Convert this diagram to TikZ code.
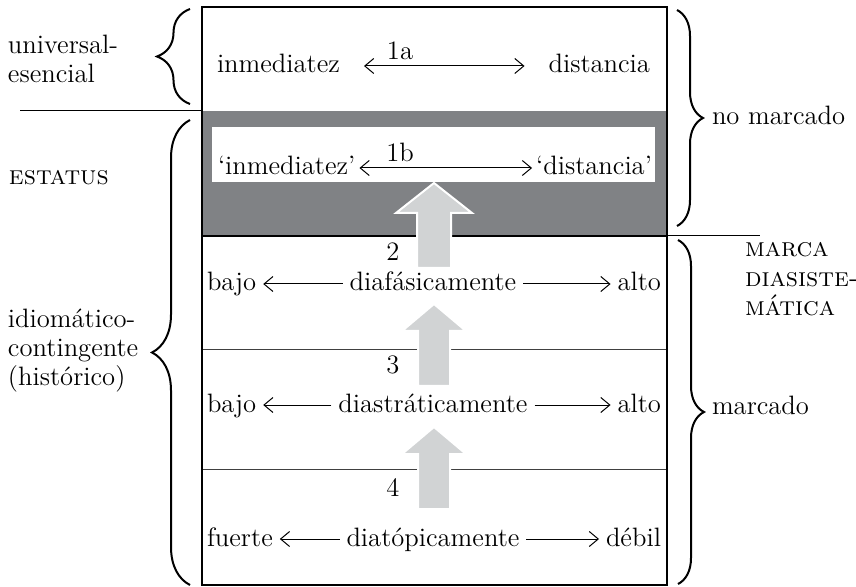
\documentclass[tikz,border=0pt]{standalone}
\usepackage{fontspec}
\usetikzlibrary{decorations.pathreplacing, arrows.meta}

\newfontfamily\capsfont{lmromancaps10-regular.otf}

\definecolor{bandgray}{HTML}{808285}
\definecolor{arrowgray}{HTML}{D1D3D4}

\begin{document}
\begin{tikzpicture}[x=0.5pt, y=-0.5pt,
>={Straight Barb[length=4.5pt, width=7.5pt]},
TxtStyle/.style={inner sep=0pt, outer sep=0pt,
                font=\fontsize{13.3}{14.5}\selectfont},
WordStyle/.style={TxtStyle, text height=9.5pt, text depth=2.5pt},
SideStyle/.style={TxtStyle, align=left, anchor=base west},
CapsStyle/.style={SideStyle, font=\fontsize{13.3}{14.75}\selectfont\capsfont},
NumStyle/.style={TxtStyle, anchor=base},
LinkStyle/.style={->, line width=0.5pt, shorten <=#1, shorten >=#1},
LinkStyle/.default=3.5pt,
BraceStyle/.style={decorate, decoration={brace, amplitude=#1}, line width=1pt},
BigArrowStyle/.style={fill=arrowgray, draw=white, line width=1pt},
RowLineStyle/.style={line width=0.4pt, draw=black!75},]
\useasboundingbox (0,0) rectangle (856,587);

% bands of the box
\fill[bandgray] (202,111) rectangle (667,236);
\fill[white] (212,127) rectangle (655,182);
\draw[line width=0.6pt] (202,236) -- (667,236);
\draw[RowLineStyle] (202,349) -- (667,349);
\draw[RowLineStyle] (202,469) -- (667,469);
\draw[line width=0.6pt] (202,7) rectangle (667,585);
\draw[line width=1.2pt] (202,7) -- (667,7);
\draw[line width=0.5pt] (20,111) -- (202,111);
\draw[line width=0.5pt] (667,236) -- (760,236);

% row 1a
\node [NumStyle] (n1a) at (400,60) {1a};
\node [WordStyle, anchor=base west] (inm1) at (217,73) {inmediatez};
\node [WordStyle, anchor=base east] (dist1) at (650,73) {distancia};
\draw[LinkStyle=12pt, <->] (inm1.east) -- (dist1.west);

% row 1b
\node [NumStyle] (n1b) at (400,162) {1b};
\node [WordStyle, anchor=base west] (inm2) at (218,175) {`inmediatez'};
\node [WordStyle, anchor=base east] (dist2) at (652,175) {`distancia'};
\draw[LinkStyle=2pt, <->] (inm2.east) -- (dist2.west);

% row 2
\node [NumStyle] (n2) at (393,261) {2};
\node [WordStyle, anchor=base west] (bajo2) at (207,291) {bajo};
\node [WordStyle, anchor=base] (fas) at (433,291) {diafásicamente};
\node [WordStyle, anchor=base east] (alto2) at (661,291) {alto};
\draw[LinkStyle] (fas.west) -- (bajo2.east);
\draw[LinkStyle] (fas.east) -- (alto2.west);

% row 3
\node [NumStyle] (n3) at (393,373) {3};
\node [WordStyle, anchor=base west] (bajo3) at (207,412) {bajo};
\node [WordStyle, anchor=base] (strat) at (433,412) {diastráticamente};
\node [WordStyle, anchor=base east] (alto3) at (661,412) {alto};
\draw[LinkStyle] (strat.west) -- (bajo3.east);
\draw[LinkStyle] (strat.east) -- (alto3.west);

% row 4
\node [NumStyle] (n4) at (393,496) {4};
\node [WordStyle, anchor=base west] (fuerte) at (207,546) {fuerte};
\node [WordStyle, anchor=base] (top) at (433,546) {diatópicamente};
\node [WordStyle, anchor=base east] (debil) at (661,546) {débil};
\draw[LinkStyle] (top.west) -- (fuerte.east);
\draw[LinkStyle] (top.east) -- (debil.west);

% big arrows
\foreach \tip/\head/\base/\sw/\hw in {183/30/268/17/38, 304/27/386/16/32,
                                      427/27/509/16/32}
  \filldraw[BigArrowStyle] (434-\sw,\base) -- (434-\sw,\tip+\head)
    -- (434-\hw,\tip+\head) -- (434,\tip) -- (434+\hw,\tip+\head)
    -- (434+\sw,\tip+\head) -- (434+\sw,\base) -- cycle;

% left side
\node [SideStyle] (univ) at (8,83) {universal-\\esencial};
\node [CapsStyle] (estatus) at (9,185) {estatus};
\node [SideStyle] (idiom) at (8,386) {idiomático-\\contingente\\(histórico)};
\draw[BraceStyle=16.5pt] (190,104) -- (190,9);
\draw[BraceStyle=19pt] (190,585) -- (190,120);

% right side
\node [SideStyle] (nomarc) at (712,125) {no marcado};
\node [SideStyle] (marc) at (712,415) {marcado};
\node [CapsStyle] (diasis) at (745,316) {marca\\diasiste-\\mática};
\draw[BraceStyle=13pt] (677,10) -- (677,226);
\draw[BraceStyle=13pt] (678,240) -- (678,584);
\end{tikzpicture}
\end{document}
